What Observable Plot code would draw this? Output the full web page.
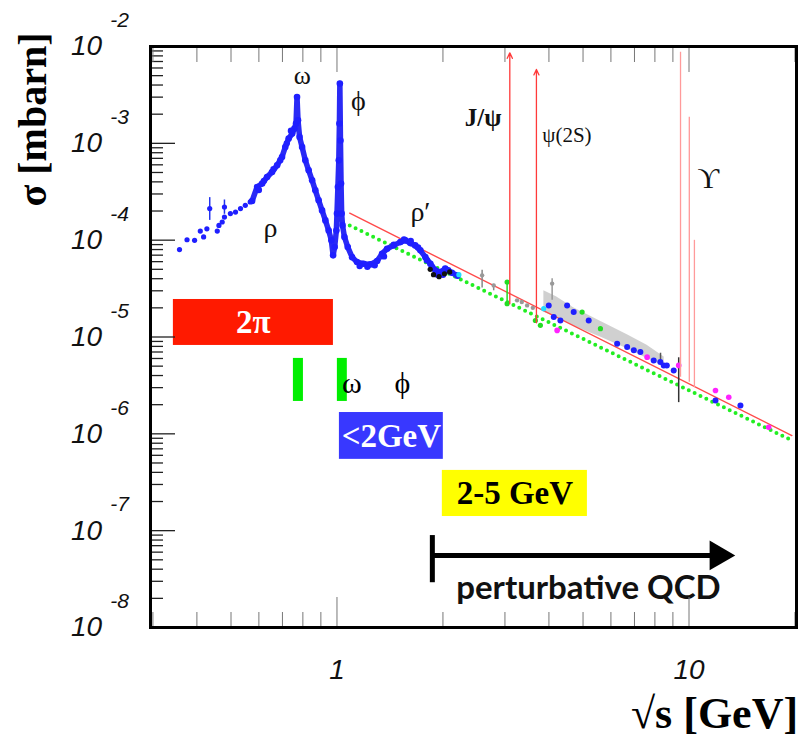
<!DOCTYPE html>
<html><head><meta charset="utf-8">
<script src="https://cdn.jsdelivr.net/npm/d3@7"></script>
<script src="https://cdn.jsdelivr.net/npm/@observablehq/plot@0.6"></script>
<style>body{margin:0;background:#fff;}</style>
</head><body><div id="chart"></div>
<script>
// ---- axes ----
const xDomain = [0.2953, 20.2];
const yDomain = [1e-8, 1e-2];
const xMajor = [1, 10];
const xMinor = [0.3,0.4,0.5,0.6,0.7,0.8,0.9,2,3,4,5,6,7,8,9,20];
const xTickLabels = ["1", "10"];
const yMajor = [1e-8,1e-7,1e-6,1e-5,1e-4,1e-3,1e-2];
const yExponents = ["-8","-7","-6","-5","-4","-3","-2"];
const yMinorFactors = [2,3,4,5,6,7,8,9];

// ---- low-energy blue data (sparse part) ----
const blueSparseX = [0.357,0.375,0.394,0.409,0.418,0.427,0.435,0.457,0.462,0.472,0.479,0.479,0.498,0.515,0.532,0.549,0.567];
const blueSparseY = [8.0e-5,1.01e-4,9.96e-5,1.24e-4,1.08e-4,1.31e-4,2.12e-4,1.24e-4,1.42e-4,1.54e-4,2.20e-4,1.73e-4,1.88e-4,1.95e-4,2.12e-4,2.29e-4,2.48e-4];

// ---- dense blue trace (rho, omega, phi, rho') ----
const blueTraceX = [0.574,0.593,0.613,0.633,0.654,0.676,0.698,0.713,0.729,0.746,0.757,0.765,0.770,0.775,0.783,0.796,0.813,0.831,0.850,0.868,0.887,0.907,0.927,0.947,0.964,0.975,0.985,0.996,1.000,1.006,1.012,1.016,1.019,1.023,1.027,1.031,1.037,1.05,1.073,1.104,1.14,1.19,1.244,1.30,1.343,1.388,1.449,1.514,1.564,1.616,1.668,1.725,1.783,1.842,1.904,1.967,2.03,2.12,2.2];
const blueTraceY = [2.54e-4,3.54e-4,3.84e-4,4.49e-4,5.06e-4,5.93e-4,7.23e-4,9.16e-4,1.12e-3,1.26e-3,1.42e-3,1.60e-3,3.01e-3,1.73e-3,1.16e-3,9.16e-4,6.67e-4,5.26e-4,4.15e-4,3.27e-4,2.58e-4,2.03e-4,1.60e-4,1.26e-4,9.96e-5,6.97e-5,8.49e-5,1.26e-4,1.88e-4,3.54e-4,6.67e-4,1.60e-3,4.14e-3,1.07e-3,3.84e-4,1.88e-4,1.42e-4,1.08e-4,8.49e-5,6.68e-5,5.94e-5,5.71e-5,5.62e-5,6.08e-5,7.24e-5,8.16e-5,8.83e-5,9.55e-5,9.96e-5,9.33e-5,8.83e-5,7.85e-5,6.68e-5,5.71e-5,4.88e-5,4.68e-5,5.08e-5,4.6e-5,4.3e-5];
const blueScatterX = [0.60,0.62,0.66,0.69,0.72,0.74,1.16,1.22,1.28,1.36,1.45,1.55,1.62,1.70,1.80,1.86,1.93,2.0,2.07];
const blueScatterY = [3.3e-4,4.1e-4,5.4e-4,6.7e-4,1.0e-3,1.35e-3,5.4e-5,5.3e-5,5.5e-5,6.8e-5,9.0e-5,1.02e-4,9.8e-5,8.4e-5,6.2e-5,5.3e-5,4.4e-5,4.4e-5,4.9e-5];
const blackX = [1.84,1.88,1.95,2.02,2.09];
const blackY = [5.0e-5,4.4e-5,4.2e-5,4.5e-5,4.7e-5];

// ---- higher-energy data by experiment colour ----
const blueHiX = [3.995,4.128,4.312,4.505,4.704,5.189,6.25,6.672,6.97,7.275,7.938,8.29,8.476,8.65,9.049,11.89,14.0];
const blueHiY = [2.12e-5,1.61e-5,1.48e-5,2.12e-5,1.81e-5,1.48e-5,8.53e-6,7.87e-6,7.28e-6,6.98e-6,5.73e-6,5.51e-6,5.09e-6,5.09e-6,4.52e-6,2.21e-6,1.96e-6];
const magentaX = [4.221,7.603,9.348,11.89,12.97,16.84];
const magentaY = [1.17e-5,6.19e-6,5.09e-6,2.80e-6,2.39e-6,1.17e-6];
const cyanX = [2.22,3.866];
const cyanY = [4.4e-5,1.96e-5];
const grayX = [2.584,2.787,3.248,3.468,4.085,3.35,3.6];
const grayY = [4.33e-5,3.41e-5,2.39e-5,2.12e-5,3.56e-5,2.3e-5,2.0e-5];
const greenX = [3.043,3.043,3.661,3.783,4.97,5.602];
const greenY = [3.69e-5,2.21e-5,1.48e-5,1.32e-5,1.81e-5,1.22e-5];

// ---- error bars ----
const errX = [0.435,0.479,2.584,2.787,3.043,4.085,8.3,9.348];
const errLo = [1.6e-4,1.85e-4,3.2e-5,3.0e-5,2.12e-5,2.4e-5,5.6e-6,2.1e-6];
const errHi = [2.75e-4,2.6e-4,4.9e-5,3.5e-5,3.69e-5,4.0e-5,6.8e-6,6.1e-6];
const errColor = ["#2233ee","#2233ee","#888888","#888888","#22dd22","#999999","#555555","#333333"];

// ---- grey band ----
const bandX = [3.87,4.2,4.7,5.6,6.7,7.6,8.5];
const bandLo = [1.8e-5,1.6e-5,1.3e-5,1.0e-5,7.5e-6,6.0e-6,5.0e-6];
const bandHi = [3.0e-5,2.6e-5,2.0e-5,1.45e-5,1.05e-5,8.2e-6,6.2e-6];

// ---- pQCD curves ----
const pqcdX = [1.087, 19.6];
const pqcdRedY = [1.9e-4, 9.6e-7];
const pqcdGreenY = [1.42e-4, 8.55e-7];

// ---- narrow resonances ----
const resNames = ["J/ψ","ψ(2S)","Υ(1S)","Υ(2S)","Υ(3S)"];
const resX = [3.097, 3.686, 9.46, 10.02, 10.36];
const resLo = [2.2e-5, 1.4e-5, 3.83e-6, 3.4e-6, 3.0e-6];
const resHi = [8.6e-3, 5.8e-3, 8.7e-3, 1.86e-3, 9.96e-5];
const resArrow = [true, true, false, false, false];

// ---- peak labels ----
const peakText = ["ω","ϕ","ρ","ρ′","J/ψ","ψ(2S)","ϒ"];
const peakX = [0.797,1.15,0.647,1.726,2.60,4.50,11.35];
const peakY = [5.03e-3,2.72e-3,1.33e-4,1.94e-4,1.81e-3,1.20e-3,4.35e-4];
const peakSize = [26,28,28,28,25,21,30];
const peakBold = [false,false,false,false,true,false,false];

// ---- coloured boxes ----
const boxText = ["2π","<2GeV","2-5 GeV"];
const boxX1 = [0.343,1.016,1.992];
const boxX2 = [0.977,2.005,5.145];
const boxY1 = [8.18e-6,5.45e-7,1.40e-7];
const boxY2 = [2.44e-5,1.66e-6,4.19e-7];
const boxFill = ["#ff1a00","#3838ff","#ffff00"];
const boxInk = ["white","white","black"];
const greenBarX1 = [0.752,1.0026];
const greenBarX2 = [0.803,1.070];
const greenBarY = [2.16e-6, 6.01e-6];
const vmText = ["ω","ϕ"];
const vmX = [1.102,1.534];
const vmY = [3.32e-6,3.32e-6];

// ---- perturbative QCD arrow ----
const qcdStartX = 1.866, qcdEndX = 12.1, qcdY = 5.55e-8;
const qcdBarY = [2.9e-8, 8.9e-8];
const qcdLabel = "perturbative QCD", qcdLabelX = 5.18, qcdLabelY = 2.53e-8;

// ---- build tables ----
const zip = (xs, ys) => xs.map((x,i)=>({x, y: ys[i]}));
const yMinor = yMajor.slice(0,-1).flatMap(d => yMinorFactors.map(k => k*d));
const boxes = boxText.map((t,i)=>({t, x1:boxX1[i], x2:boxX2[i], y1:boxY1[i], y2:boxY2[i], fill:boxFill[i], ink:boxInk[i]}));
const errs = errX.map((x,i)=>({x, lo:errLo[i], hi:errHi[i], c:errColor[i]}));
const band = bandX.map((x,i)=>({x, lo:bandLo[i], hi:bandHi[i]}));
const res = resX.map((x,i)=>({name:resNames[i], x, lo:resLo[i], hi:resHi[i], arrow:resArrow[i]}));
const peaks = peakText.map((t,i)=>({t, x:peakX[i], y:peakY[i], s:peakSize[i], b:peakBold[i]}));
const gbars = greenBarX1.map((x1,i)=>({x1, x2:greenBarX2[i]}));
const serif = "Liberation Serif, Times New Roman, DejaVu Serif, serif";
const sans = "Liberation Sans, Arial, Helvetica, sans-serif";

const chart = Plot.plot({
  width: 808, height: 743,
  marginLeft: 150, marginRight: 12, marginTop: 46, marginBottom: 116,
  x: {type: "log", domain: xDomain, axis: null},
  y: {type: "log", domain: yDomain, axis: null},
  style: {background: "white"},
  marks: [
    // boxes
    Plot.rect(boxes, {x1:"x1", x2:"x2", y1:"y1", y2:"y2", fill:"fill"}),
    Plot.rect(gbars, {x1:"x1", x2:"x2", y1:greenBarY[0], y2:greenBarY[1], fill:"#00ee00"}),
    Plot.text(boxes, {x: d=>Math.sqrt(d.x1*d.x2), y: d=>Math.sqrt(d.y1*d.y2), text:"t", fill:"ink", fontSize:33, fontWeight:"bold", fontFamily:serif}),
    Plot.text(zip(vmX, vmY).map((d,i)=>({...d, t:vmText[i]})), {x:"x", y:"y", text:"t", fontSize:30, fontFamily:serif, fill:"black"}),
    // grey band
    Plot.areaY(band, {x:"x", y1:"lo", y2:"hi", fill:"#c8c8c8", fillOpacity:0.85}),
    // pQCD curves
    Plot.line(zip(pqcdX, pqcdGreenY), {x:"x", y:"y", stroke:"#22ee22", strokeWidth:4, strokeDasharray:"0,6.5", strokeLinecap:"round"}),
    Plot.line(zip(pqcdX, pqcdRedY), {x:"x", y:"y", stroke:"#ff4a4a", strokeWidth:1.4}),
    // error bars
    Plot.ruleX(errs, {x:"x", y1:"lo", y2:"hi", stroke:"c", strokeWidth:1.5}),
    // data
    Plot.line(zip(blueTraceX, blueTraceY), {x:"x", y:"y", stroke:"#2a2af5", strokeWidth:5.5, strokeLinejoin:"round"}),
    Plot.dot(zip(blueTraceX, blueTraceY), {x:"x", y:"y", r:3.3, fill:"#1f1fff"}),
    Plot.dot(zip(blueScatterX, blueScatterY), {x:"x", y:"y", r:3.2, fill:"#1f1fff"}),
    Plot.dot(zip(blueSparseX, blueSparseY), {x:"x", y:"y", r:2.6, fill:"#1f1fff"}),
    Plot.dot(zip(blackX, blackY), {x:"x", y:"y", r:2.6, fill:"#111"}),
    Plot.dot(zip(grayX, grayY), {x:"x", y:"y", r:2.2, fill:"#999"}),
    Plot.dot(zip(greenX, greenY), {x:"x", y:"y", r:2.6, fill:"#22dd22"}),
    Plot.dot(zip(blueHiX, blueHiY), {x:"x", y:"y", r:3, fill:"#1f1fff"}),
    Plot.dot(zip(magentaX, magentaY), {x:"x", y:"y", r:2.8, fill:"#ff22ff"}),
    Plot.dot(zip(cyanX, cyanY), {x:"x", y:"y", r:2.6, fill:"#22ddff"}),
    // resonances
    Plot.ruleX(res.filter(d=>!d.arrow), {x:"x", y1:"lo", y2:"hi", stroke:"#ff9a9a", strokeWidth:1.3}),
    Plot.arrow(res.filter(d=>d.arrow), {x:"x", y1:"lo", y2:"hi", stroke:"#ff3a3a", strokeWidth:1.3, headLength:7, headAngle:50}),
    // peak labels
    Plot.text(peaks.filter(d=>!d.b), {x:"x", y:"y", text:"t", fontSize:"s", fontFamily:serif, fill:"#111"}),
    Plot.text(peaks.filter(d=>d.b), {x:"x", y:"y", text:"t", fontSize:"s", fontWeight:"bold", fontFamily:serif, fill:"#111"}),
    // perturbative QCD arrow
    Plot.ruleY([qcdY], {x1:qcdStartX, x2:qcdEndX, stroke:"black", strokeWidth:5}),
    Plot.ruleX([qcdStartX], {y1:qcdBarY[0], y2:qcdBarY[1], stroke:"black", strokeWidth:5}),
    Plot.dot([qcdEndX], {x:d=>d, y:qcdY, symbol:"triangle", rotate:90, r:11, fill:"black"}),
    Plot.text([qcdLabel], {x:qcdLabelX, y:qcdLabelY, text:d=>d, fontSize:33, fontWeight:"bold", fontFamily:"Lato, Open Sans, sans-serif", fill:"#111"}),
    // ticks
    Plot.axisY(yMajor, {anchor:"left", tickSize:-25, tickFormat:()=>"", stroke:"#222", strokeWidth:1.3, label:null}),
    Plot.axisY(yMinor, {anchor:"left", tickSize:-13, tickFormat:()=>"", stroke:"#222", strokeWidth:1.3, label:null}),
    Plot.axisX(xMajor, {anchor:"bottom", tickSize:-30, tickFormat:()=>"", stroke:"#777", strokeWidth:1, label:null}),
    Plot.axisX(xMinor, {anchor:"bottom", tickSize:-15, tickFormat:()=>"", stroke:"#777", strokeWidth:1, label:null}),
    Plot.axisX(xMajor, {anchor:"top", tickSize:-25, tickFormat:()=>"", stroke:"#777", strokeWidth:1, label:null}),
    Plot.axisX(xMinor, {anchor:"top", tickSize:-15, tickFormat:()=>"", stroke:"#777", strokeWidth:1, label:null}),
    // tick labels
    Plot.text(yMajor, {x:xDomain[0], y:d=>d, text:()=>"10", dx:-64, fontSize:28, fontStyle:"italic", fontFamily:sans, fill:"#111"}),
    Plot.text(yMajor, {x:xDomain[0], y:d=>d, text:(d,i)=>yExponents[i], dx:-31, dy:-26, fontSize:21, fontStyle:"italic", fontFamily:sans, fill:"#111"}),
    Plot.text(xMajor, {x:d=>d, y:yDomain[0], text:(d,i)=>xTickLabels[i], dy:43, fontSize:28, fontStyle:"italic", fontFamily:sans, fill:"#111"}),
    // axis titles
    Plot.text(["σ [mbarn]"], {frameAnchor:"top-left", textAnchor:"middle", lineAnchor:"middle", dx:-117, dy:73, rotate:-90, text:d=>d, fontSize:40, fontWeight:"bold", fontFamily:serif, fill:"black"}),
    Plot.text(["√s [GeV]"], {frameAnchor:"bottom-right", textAnchor:"middle", lineAnchor:"middle", dx:-82, dy:86, text:d=>d, fontSize:44, fontWeight:"bold", fontFamily:serif, fill:"black"}),
    Plot.frame({stroke:"black", strokeWidth:3})
  ]
});
document.getElementById("chart").appendChild(chart);
</script>
</body></html>
